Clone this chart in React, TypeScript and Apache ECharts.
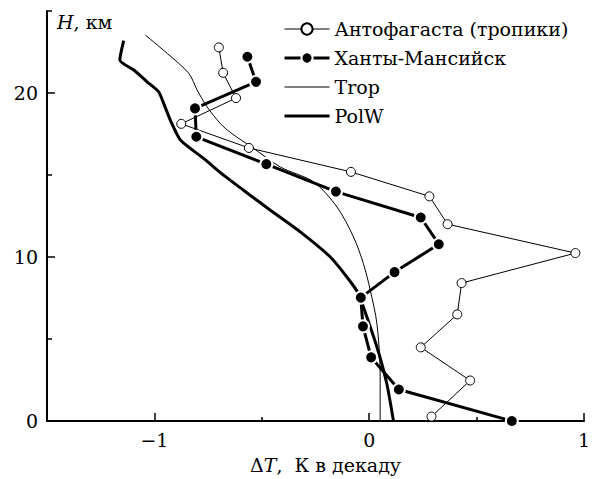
import React, { useEffect, useRef } from "react";
import * as echarts from "echarts";

// Антофагаста (тропики): height, km and trend, K per decade
const antofagastaH = [0.27, 2.47, 4.49, 6.5, 8.41, 10.24, 12.0, 13.7, 15.19, 16.65, 18.12, 19.69, 21.23, 22.78];
const antofagastaDT = [0.29, 0.47, 0.24, 0.41, 0.43, 0.96, 0.365, 0.28, -0.085, -0.56, -0.875, -0.62, -0.68, -0.7];

// Ханты-Мансийск
const khantyH = [0, 1.92, 3.88, 5.77, 7.52, 9.08, 10.78, 12.41, 13.99, 15.66, 17.33, 19.06, 20.68, 22.21];
const khantyDT = [0.664, 0.138, 0.009, -0.029, -0.039, 0.118, 0.324, 0.24, -0.155, -0.479, -0.805, -0.811, -0.527, -0.567];

// Trop model profile
const tropH = [0, 2.88, 5.93, 7.97, 9.6, 11.22, 13.05, 14.58, 15.49, 16.62, 17.6, 18.14, 19.16, 20.18, 21.2, 22.42, 23.53];
const tropDT = [0.051, 0.051, 0.036, 0.005, -0.027, -0.073, -0.15, -0.259, -0.414, -0.538, -0.647, -0.693, -0.755, -0.801, -0.84, -0.941, -1.042];

// PolW model profile
const polwH = [0, 2.27, 4.51, 6.95, 7.77, 8.78, 10.0, 11.53, 12.85, 14.07, 14.99, 16.01, 17.13, 18.35, 19.37, 20.07, 20.68, 21.4, 22.01, 23.19];
const polwDT = [0.113, 0.082, 0.036, -0.027, -0.05, -0.104, -0.181, -0.321, -0.46, -0.585, -0.678, -0.771, -0.879, -0.926, -0.957, -0.98, -1.034, -1.096, -1.161, -1.143];

// Axis ticks and labels
const xMajor = [-1, 0, 1];
const xMinor = [-0.5, 0.5];
const yMajor = [0, 10, 20];
const yMinor = [5, 15, 25];

const FONT = "DejaVu Serif";
const FS = 19;

const pairs = (xs: number[], ys: number[]) => xs.map((x, i) => [x, ys[i]]);
const fmt = (v: number) => (v < 0 ? "\u2212" + Math.abs(v) : String(v));

const richText = {
  d: { fontFamily: FONT, fontSize: FS, fill: "#000" },
  i: { fontFamily: FONT, fontSize: FS, fontStyle: "italic", fill: "#000" },
};

export default function App() {
  const ref = useRef<HTMLDivElement>(null);

  useEffect(() => {
    document.body.style.margin = "0";
    if (!ref.current) return;
    const chart = echarts.init(ref.current, null, { renderer: "svg" });

    const axisLine = { show: true, onZero: false, lineStyle: { color: "#000", width: 2 } };
    const tickStyle = { color: "#000", width: 1.5 };

    chart.setOption({
      animation: false,
      backgroundColor: "#fff",
      textStyle: { fontFamily: FONT, color: "#000" },
      grid: { left: 47, right: 11, top: 11, bottom: 58, containLabel: false },
      xAxis: [
        {
          type: "value",
          min: -1.5,
          max: 1,
          position: "bottom",
          axisLine,
          splitLine: { show: false },
          axisTick: { inside: true, length: 8, customValues: xMajor, lineStyle: tickStyle },
          axisLabel: {
            customValues: xMajor,
            formatter: fmt,
            margin: 9,
            fontFamily: FONT,
            fontSize: FS,
            color: "#000",
          },
        },
        {
          type: "value",
          min: -1.5,
          max: 1,
          position: "bottom",
          axisLine: { show: false, onZero: false },
          splitLine: { show: false },
          axisTick: { inside: true, length: 4, customValues: xMinor, lineStyle: tickStyle },
          axisLabel: { show: false },
        },
      ],
      yAxis: [
        {
          type: "value",
          min: 0,
          max: 25,
          position: "left",
          axisLine,
          splitLine: { show: false },
          axisTick: { inside: true, length: 8, customValues: yMajor, lineStyle: tickStyle },
          axisLabel: {
            customValues: yMajor,
            formatter: fmt,
            margin: 9,
            fontFamily: FONT,
            fontSize: FS,
            color: "#000",
          },
        },
        {
          type: "value",
          min: 0,
          max: 25,
          position: "left",
          axisLine: { show: false, onZero: false },
          splitLine: { show: false },
          axisTick: { inside: true, length: 5, customValues: yMinor, lineStyle: tickStyle },
          axisLabel: { show: false },
        },
      ],
      legend: {
        orient: "vertical",
        left: 283,
        top: 19,
        padding: 0,
        itemWidth: 45,
        itemHeight: 14,
        itemGap: 9,
        textStyle: { fontFamily: FONT, fontSize: FS, color: "#000", lineHeight: 20 },
        data: [
          { name: "Антофагаста (тропики)", lineStyle: { width: 1 } },
          { name: "Ханты-Мансийск", lineStyle: { width: 3 } },
          { name: "Trop", lineStyle: { width: 1 }, itemStyle: { opacity: 0 } },
          { name: "PolW", lineStyle: { width: 3 }, itemStyle: { opacity: 0 } },
        ],
      },
      graphic: [
        {
          type: "text",
          left: 57,
          top: 12,
          style: { text: "{i|H}{d|, км}", rich: richText },
        },
        {
          type: "text",
          left: 250,
          top: 455,
          style: { text: "{d|\u0394}{i|T}{d|,  К в декаду}", rich: richText },
        },
      ],
      series: [
        {
          name: "Trop",
          type: "line",
          data: pairs(tropDT, tropH),
          showSymbol: false,
          symbol: "none",
          smooth: 0.3,
          clip: false,
          lineStyle: { color: "#000", width: 1 },
          itemStyle: { color: "#000" },
        },
        {
          name: "PolW",
          type: "line",
          data: pairs(polwDT, polwH),
          showSymbol: false,
          symbol: "none",
          smooth: 0.2,
          clip: false,
          lineStyle: { color: "#000", width: 3 },
          itemStyle: { color: "#000" },
        },
        {
          name: "Антофагаста (тропики)",
          type: "line",
          data: pairs(antofagastaDT, antofagastaH),
          symbol: "circle",
          symbolSize: 9,
          clip: false,
          lineStyle: { color: "#000", width: 1 },
          itemStyle: { color: "#fff", borderColor: "#000", borderWidth: 1 },
          z: 3,
        },
        {
          name: "Ханты-Мансийск",
          type: "line",
          data: pairs(khantyDT, khantyH),
          symbol: "circle",
          symbolSize: 12,
          clip: false,
          lineStyle: { color: "#000", width: 3 },
          itemStyle: { color: "#000", borderColor: "#fff", borderWidth: 2 },
          z: 4,
        },
      ],
    });

    return () => chart.dispose();
  }, []);

  return <div ref={ref} style={{ width: 595, height: 479 }} />;
}
